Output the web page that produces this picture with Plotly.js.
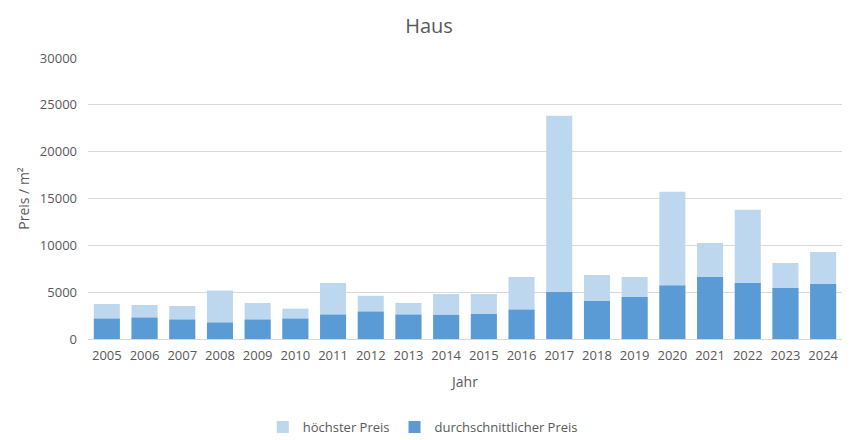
<!DOCTYPE html>
<html>
<head>
<meta charset="utf-8">
<script src="https://cdn.plot.ly/plotly-3.0.1.min.js"></script>
<style>html,body{margin:0;padding:0;background:#fff;}#chart{width:858px;height:440px;}</style>
</head>
<body>
<div id="chart"></div>
<script>
const years = ["2005","2006","2007","2008","2009","2010","2011","2012","2013","2014","2015","2016","2017","2018","2019","2020","2021","2022","2023","2024"];
const hoechsterPreis = [3740,3630,3530,5170,3850,3240,5990,4630,3850,4810,4810,6630,23830,6840,6630,15710,10260,13790,8120,9300];
const durchschnittPreis = [2170,2280,2070,1750,2070,2170,2600,2920,2600,2570,2670,3130,5020,4060,4490,5700,6630,5990,5450,5880];

const font = "'Open Sans', 'Noto Sans', sans-serif";
const data = [
  {type:"bar", name:"höchster Preis", x:years, y:hoechsterPreis, marker:{color:"#BDD7EE"}, hoverinfo:"x+y"},
  {type:"bar", name:"durchschnittlicher Preis", x:years, y:durchschnittPreis, marker:{color:"#5B9BD5"}, hoverinfo:"x+y"}
];
const layout = {
  width:858, height:440,
  margin:{l:88, r:16, t:58, b:101, autoexpand:false},
  paper_bgcolor:"#fff", plot_bgcolor:"#fff",
  barmode:"overlay", bargap:0.31,
  font:{family:font, color:"#595959", size:13},
  title:{text:"Haus", x:0.5, xanchor:"center", y:0.942, yanchor:"middle", font:{family:font, size:20, color:"#595959"}},
  xaxis:{type:"category", automargin:false, showgrid:false, showline:true, linecolor:"#d9d9d9", linewidth:1, ticks:"",
    tickfont:{size:13, color:"#595959"}, ticklabelstandoff:4,
    title:{text:"Jahr", font:{size:14, color:"#595959"}, standoff:14}},
  yaxis:{range:[0,30000], dtick:5000, tickformat:"d", automargin:false, gridcolor:"#d9d9d9", gridwidth:1, zeroline:false, showline:false, ticks:"",
    tickfont:{size:13, color:"#595959"}, ticklabelstandoff:10,
    title:{text:"Preis / m²", font:{size:14, color:"#595959"}, standoff:6}},
  legend:{orientation:"h", x:0.444, xanchor:"center", y:-0.313, yanchor:"middle", font:{size:13, color:"#595959"}, traceorder:"normal"},
  showlegend:true
};
Plotly.newPlot("chart", data, layout, {displayModeBar:false, staticPlot:true});
</script>
</body>
</html>
